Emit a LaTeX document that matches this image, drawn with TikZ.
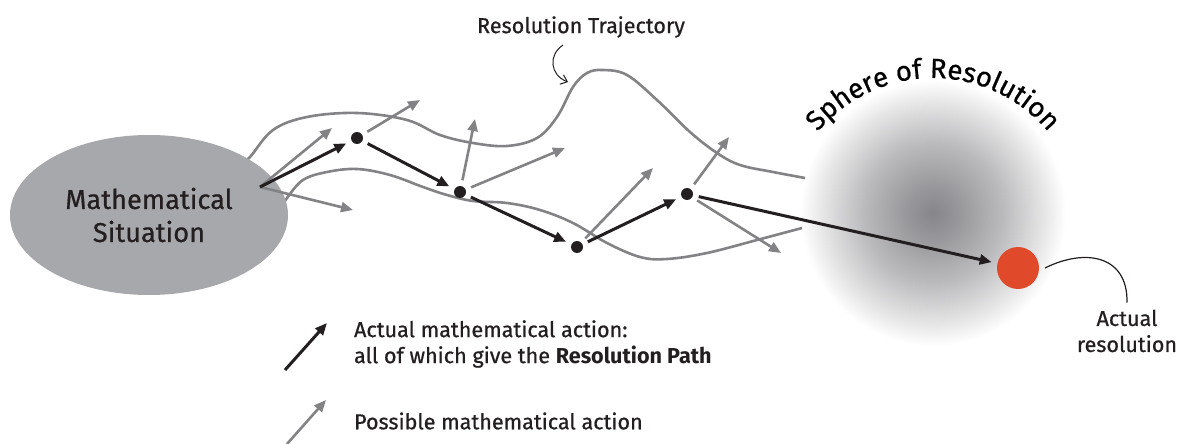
\documentclass[tikz,border=0pt]{standalone}
\usepackage{fontspec}
\setmainfont{Fira Sans}[FakeBold=0.7, BoldFeatures={FakeBold=0}]
\usetikzlibrary{arrows.meta,shapes.geometric,decorations.text}

\definecolor{pathgray}{RGB}{131,131,134}
\definecolor{blobgray}{RGB}{167,168,171}
\definecolor{inkblack}{RGB}{35,31,32}
\definecolor{resred}{RGB}{224,74,43}
\definecolor{corestone}{RGB}{134,134,138}

\pgfdeclareradialshading{sphereshade}{\pgfpoint{0bp}{0bp}}{%
  color(0bp)=(corestone);
  color(5bp)=(corestone!85!white);
  color(13bp)=(corestone!57!white);
  color(21bp)=(corestone!20!white);
  color(25bp)=(white);
  color(50bp)=(white)}

\newcommand\sphfont{\fontsize{13.8}{15}\selectfont}

\tikzset{
  actual/.style={draw=inkblack, line width=1.5pt, -{Triangle[length=6pt,width=5pt]}},
  possible/.style={draw=pathgray, line width=1.3pt, -{Triangle[length=6pt,width=5pt]}},
  band/.style={draw=pathgray, line width=1.3pt},
  stepdot/.style={circle, fill=inkblack, inner sep=0pt, minimum size=6pt, outer sep=3pt},
  label/.style={text=inkblack, font=\fontsize{10.8}{13}\selectfont},
}

\begin{document}
\begin{tikzpicture}[x=0.5pt,y=-0.5pt]
\useasboundingbox (0,0) rectangle (1179,444);

% sphere of resolution
\shade[shading=sphereshade] (933,213) circle (133);
\path[decorate, decoration={text along path, text align=center,
  text={|\sphfont|Sphere of Resolution}}]
  (933,228) ++(200:150) arc[start angle=200, end angle=340, radius=150];

% trajectory band
\draw[band] plot[smooth, tension=0.6] coordinates {(240,165) (250,157) (273,130) (307,117)
  (357,113) (407,120) (440,135) (473,143) (507,146) (537,138) (557,117) (573,87)
  (587,73) (603,70) (627,75) (657,100) (690,132) (717,153) (740,165) (773,172) (805,178)};
\draw[band] plot[smooth, tension=0.6] coordinates {(280,210) (287,198) (303,180) (327,172)
  (357,169) (390,175) (423,187) (447,195) (473,201) (507,203) (540,210) (573,223)
  (607,243) (640,257) (667,259) (707,253) (757,240) (802,228)};

% situation
\node[ellipse, fill=blobgray, minimum width=139pt, minimum height=80pt, inner sep=0pt,
  align=center, text=inkblack, font=\fontsize{13.6}{16.5}\selectfont] (sit) at (149,215)
  {Mathematical\\Situation};
\coordinate (src) at (260,187);

% steps
\node[stepdot] (a1) at (357,138) {};
\node[stepdot] (a2) at (460,192) {};
\node[stepdot] (a3) at (577,247) {};
\node[stepdot] (a4) at (687,194) {};
\node[circle, fill=resred, minimum size=21pt, inner sep=0pt, outer sep=3pt] (res) at (1018,268) {};

% possible actions
\coordinate (p1) at (332,128);
\coordinate (p2) at (353,210);
\coordinate (p3) at (420,100);
\coordinate (p4) at (475,119);
\coordinate (p5) at (565,148);
\coordinate (p6) at (653,168);
\coordinate (p7) at (729,137);
\coordinate (p8) at (781,253);
\draw[possible] (src) -- (p1);
\draw[possible] (src) -- (p2);
\draw[possible] (a1) -- (p3);
\draw[possible] (a2) -- (p4);
\draw[possible] (a2) -- (p5);
\draw[possible] (a3) -- (p6);
\draw[possible] (a4) -- (p7);
\draw[possible] (a4) -- (p8);

% actual actions
\draw[actual] (src) -- (a1);
\draw[actual] (a1) -- (a2);
\draw[actual] (a2) -- (a3);
\draw[actual] (a3) -- (a4);
\draw[actual] (a4) -- (res);

% labels
\node[label] (traj) at (581,27) {Resolution Trajectory};
\draw[inkblack, line width=0.5pt, -{Straight Barb[length=3pt,width=5pt]}]
  (563,45) .. controls (548,55) and (550,75) .. (568,82);
\node[label, align=center] (actres) at (1127,331) {Actual\\resolution};
\draw[inkblack, line width=0.6pt] (res.east) .. controls (1085,248) and (1128,255) .. (actres.north);

% legend
\coordinate (l1s) at (285,370);
\coordinate (l1e) at (327,323);
\coordinate (l2s) at (287,444);
\coordinate (l2e) at (326,400);
\draw[actual] (l1s) -- (l1e);
\draw[possible] (l2s) -- (l2e);
\node[label, anchor=west, align=left] (leg1) at (347,344)
  {Actual mathematical action:\\all of which give the \textbf{Resolution Path}};
\node[label, anchor=west] (leg2) at (347,421) {Possible mathematical action};
\end{tikzpicture}
\end{document}
